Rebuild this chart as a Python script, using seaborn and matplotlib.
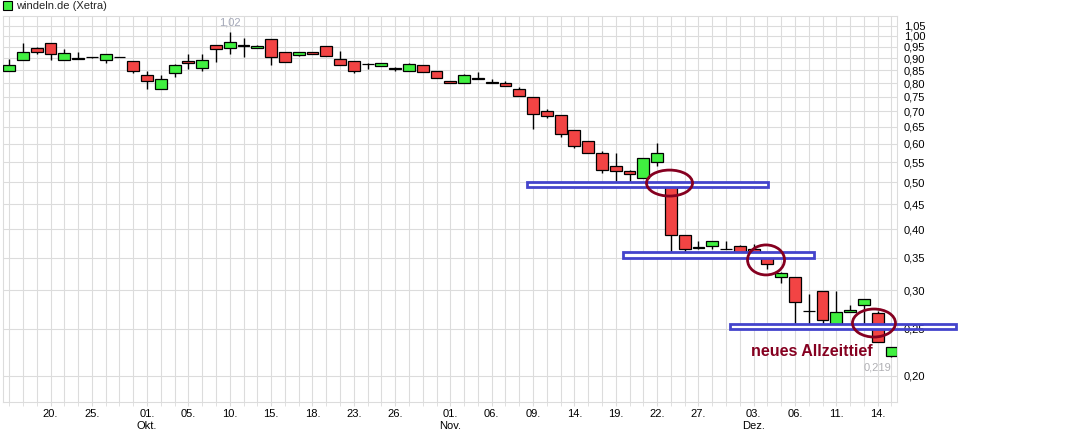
import numpy as np
import pandas as pd
import seaborn as sns
import matplotlib
matplotlib.use("Agg")
import matplotlib.pyplot as plt
from matplotlib.patches import Rectangle, Ellipse
from matplotlib.ticker import FixedLocator, FuncFormatter, MultipleLocator, NullLocator

# daily OHLC, windeln.de (Xetra), 17.09. - 17.12.
opens = [0.847, 0.894, 0.943, 0.966, 0.894, 0.899, 0.905, 0.894, 0.905, 0.887,
         0.830, 0.779, 0.838, 0.887, 0.858, 0.957, 0.943, 0.956, 0.943, 0.984,
         0.925, 0.912, 0.925, 0.952, 0.895, 0.887, 0.877, 0.866, 0.857, 0.846,
         0.870, 0.846, 0.807, 0.799, 0.818, 0.802, 0.799, 0.777, 0.748, 0.700,
         0.687, 0.640, 0.607, 0.573, 0.539, 0.527, 0.509, 0.550, 0.490, 0.389,
         0.367, 0.369, 0.365, 0.369, 0.364, 0.358, 0.319, 0.319, 0.272, 0.298,
         0.254, 0.270, 0.280, 0.269, 0.220]
highs = [0.895, 0.969, 0.951, 0.966, 0.940, 0.927, 0.907, 0.917, 0.905, 0.887,
         0.847, 0.830, 0.874, 0.918, 0.918, 0.957, 1.020, 0.989, 0.957, 0.984,
         0.925, 0.925, 0.925, 0.952, 0.931, 0.887, 0.878, 0.878, 0.865, 0.880,
         0.870, 0.846, 0.807, 0.834, 0.843, 0.814, 0.808, 0.784, 0.748, 0.707,
         0.687, 0.640, 0.607, 0.581, 0.573, 0.530, 0.560, 0.603, 0.495, 0.389,
         0.378, 0.379, 0.379, 0.371, 0.374, 0.360, 0.326, 0.319, 0.295, 0.298,
         0.298, 0.279, 0.287, 0.271, 0.229]
lows = [0.847, 0.894, 0.917, 0.892, 0.894, 0.896, 0.902, 0.878, 0.903, 0.838,
        0.777, 0.779, 0.825, 0.856, 0.848, 0.885, 0.917, 0.906, 0.943, 0.871,
        0.883, 0.908, 0.917, 0.908, 0.871, 0.838, 0.856, 0.866, 0.846, 0.846,
        0.842, 0.818, 0.799, 0.799, 0.815, 0.800, 0.788, 0.751, 0.644, 0.677,
        0.620, 0.588, 0.573, 0.522, 0.504, 0.491, 0.509, 0.541, 0.351, 0.351,
        0.364, 0.364, 0.364, 0.354, 0.356, 0.331, 0.310, 0.250, 0.250, 0.250,
        0.253, 0.270, 0.252, 0.234, 0.218]
closes = [0.871, 0.925, 0.925, 0.917, 0.921, 0.897, 0.904, 0.917, 0.904, 0.847,
          0.807, 0.814, 0.871, 0.878, 0.891, 0.939, 0.970, 0.954, 0.952, 0.904,
          0.883, 0.925, 0.917, 0.908, 0.871, 0.846, 0.876, 0.878, 0.856, 0.874,
          0.842, 0.818, 0.799, 0.830, 0.816, 0.800, 0.788, 0.751, 0.690, 0.684,
          0.627, 0.595, 0.573, 0.529, 0.527, 0.519, 0.560, 0.573, 0.389, 0.364,
          0.366, 0.379, 0.364, 0.360, 0.357, 0.340, 0.325, 0.284, 0.271, 0.260,
          0.270, 0.273, 0.287, 0.234, 0.229]

tick_idx = [3, 6, 10, 13, 16, 19, 22, 25, 28, 32, 35, 38, 41, 44, 47, 50, 54, 57, 60, 63]
tick_labels = ["20.", "25.", "01.\nOkt.", "05.", "10.", "15.", "18.", "23.", "26.",
               "01.\nNov.", "06.", "09.", "14.", "19.", "22.", "27.", "03.\nDez.",
               "06.", "11.", "14."]
price_ticks = [0.20, 0.25, 0.30, 0.35, 0.40, 0.45, 0.50, 0.55, 0.60, 0.65, 0.70,
               0.75, 0.80, 0.85, 0.90, 0.95, 1.00, 1.05]

# support zones (x from, x to, low, high) and circled breaks (x, price, w px, h px)
zones = [(37.57, 55.04, 0.488, 0.501),
         (44.56, 58.37, 0.349, 0.359),
         (52.32, 68.67, 0.249, 0.256)]
circles = [(47.9, 0.498, 46, 26),
           (54.9, 0.346, 37, 30),
           (62.73, 0.2566, 43, 28)]

df = pd.DataFrame({"o": opens, "h": highs, "l": lows, "c": closes})
df["x"] = np.arange(len(df))
df["up"] = df["c"] >= df["o"]

sns.set_style("whitegrid", {"grid.color": "#dcdcdc", "axes.edgecolor": "#dcdcdc"})
plt.rcParams["font.family"] = ["Liberation Sans", "DejaVu Sans"]

W, H = 1073, 432
fig = plt.figure(figsize=(W / 100, H / 100), dpi=100)
ax = fig.add_axes([3 / W, 30 / H, 894 / W, 386 / H])
ax.set_yscale("log")
ax.set_xlim(-0.45, 64.4)
ax.set_ylim(0.1765, 1.099)

# wicks and bodies
ax.vlines(df["x"], df["l"], df["h"], color="black", lw=1.0, zorder=3)
bottoms = df[["o", "c"]].min(axis=1)
heights = (df["o"] - df["c"]).abs()
colors = np.where(df["up"], "#40f040", "#f24444")
ax.bar(df["x"], heights, bottom=bottoms, width=0.86, color=colors,
       edgecolor="black", linewidth=0.9, zorder=4)

# axes formatting
ax.yaxis.tick_right()
ax.yaxis.set_major_locator(FixedLocator(price_ticks))
ax.yaxis.set_minor_locator(NullLocator())
ax.yaxis.set_major_formatter(FuncFormatter(lambda v, p: f"{v:.2f}".replace(".", ",")))
ax.tick_params(axis="y", length=0, pad=5, labelsize=8, labelcolor="black")

ax.set_xticks(tick_idx)
ax.set_xticklabels(tick_labels, linespacing=1.3)
ax.xaxis.set_minor_locator(MultipleLocator(1))
ax.tick_params(axis="x", which="both", length=3, color="#dcdcdc", pad=2,
               labelsize=8, labelcolor="black", bottom=True)
ax.grid(True, which="both", axis="x", color="#dcdcdc", lw=0.8, zorder=0)
ax.grid(True, which="major", axis="y", color="#dcdcdc", lw=0.8, zorder=0)
ax.set_axisbelow(True)
for sp in ax.spines.values():
    sp.set_color("#dcdcdc")
    sp.set_linewidth(0.8)

# high / low labels
i_hi = int(df["h"].idxmax())
ax.annotate(f"{df['h'][i_hi]:.2f}".replace(".", ","), (i_hi, df["h"][i_hi]),
            xytext=(0, 3), textcoords="offset points", ha="center", va="bottom",
            fontsize=8, color="#a4a8b8")
i_lo = int(df["l"].idxmin())
ax.annotate("0,219", (i_lo, df["l"][i_lo]), xytext=(-10, -4), textcoords="offset points",
            ha="center", va="top", fontsize=8, color="#b0b0b4")

# support zones: white band inside the plot, blue outline may run past it
for x0, x1, lo, hi in zones:
    ax.add_patch(Rectangle((x0, lo), x1 - x0, hi - lo, fc="white", ec="none",
                           zorder=5))
    ax.add_patch(Rectangle((x0, lo), x1 - x0, hi - lo, fill=False, ec="#4444cc",
                           lw=2.0, clip_on=False, zorder=6))

# circles, sized in pixels
fig.canvas.draw()
for cx, cy, w, h in circles:
    ax_xy = ax.transAxes.inverted().transform(ax.transData.transform((cx, cy)))
    ax.add_patch(Ellipse(ax_xy, w / 894, h / 386, transform=ax.transAxes, fill=False,
                         ec="#850020", lw=2.0, clip_on=False, zorder=7))

ax.text(58.2, 0.2237, "neues Allzeittief", ha="center", va="center", fontsize=11.5,
        fontweight="bold", color="#850020", zorder=8)

# legend
fig.add_artist(Rectangle((3 / W, 1 - 10 / H), 9 / W, 9 / H, transform=fig.transFigure,
                         fc="#40f040", ec="black", lw=0.8))
fig.text(16 / W, 1 - 6 / H, "windeln.de (Xetra)", ha="left", va="center", fontsize=8)

fig.savefig("out.png", dpi=100)
